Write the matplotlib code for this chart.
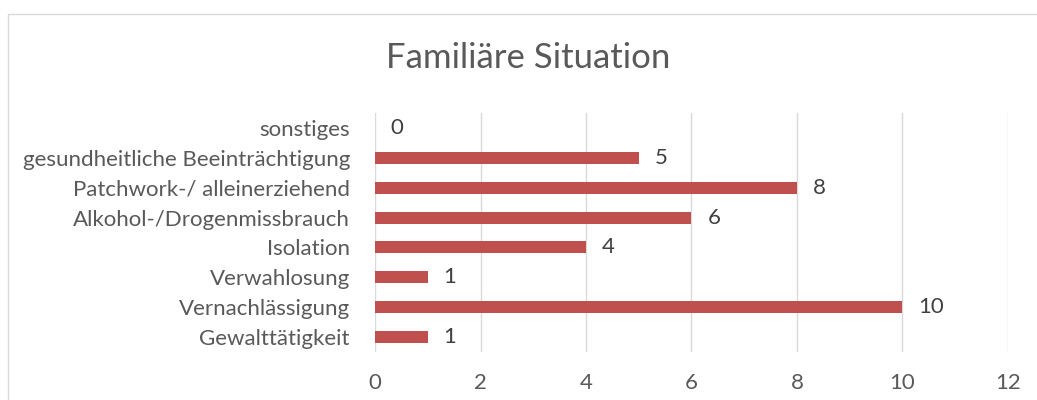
import matplotlib.pyplot as plt
from matplotlib.patches import Rectangle

categories = ["Gewalttätigkeit", "Vernachlässigung", "Verwahlosung", "Isolation",
              "Alkohol-/Drogenmissbrauch", "Patchwork-/ alleinerziehend",
              "gesundheitliche Beeinträchtigung", "sonstiges"]
values = [1, 10, 1, 4, 6, 8, 5, 0]
xticks = [0, 2, 4, 6, 8, 10, 12]

plt.rcParams['font.family'] = ['Lato', 'DejaVu Sans']
textcol = '#595959'
barcol = '#C0504D'

fig = plt.figure(figsize=(10.37, 4.0), dpi=100)
W, H = 1037, 400
ax = fig.add_axes([375 / W, 1 - 352 / H, (1008 - 375) / W, (352 - 113) / H])

ypos = list(range(len(categories)))
bars = ax.barh(ypos, values, height=0.4, color=barcol, zorder=3)
ax.set_ylim(-0.5, len(categories) - 0.5)
ax.set_xlim(0, 12)
ax.set_xticks(xticks)
ax.set_yticks(ypos)
ax.set_yticklabels(categories)
ax.tick_params(axis='both', length=0, labelsize=16, labelcolor=textcol)
ax.tick_params(axis='x', pad=15)
ax.tick_params(axis='y', pad=18)
ax.grid(axis='x', color='#D9D9D9', linewidth=1, zorder=0)
for s in ax.spines.values():
    s.set_visible(False)

for y, v in zip(ypos, values):
    ax.text(v + 0.3, y, str(v), va='center', ha='left', fontsize=16, color='#404040')

fig.text(528 / W, 1 - 58 / H, "Familiäre Situation", ha='center', va='center',
         fontsize=25, color=textcol)

fig.patches.append(Rectangle((8 / W, -0.1), 1.2, 1 - 14 / H + 0.1, transform=fig.transFigure,
                             fill=False, edgecolor='#D9D9D9', linewidth=1))

fig.savefig('out.png', dpi=100)
